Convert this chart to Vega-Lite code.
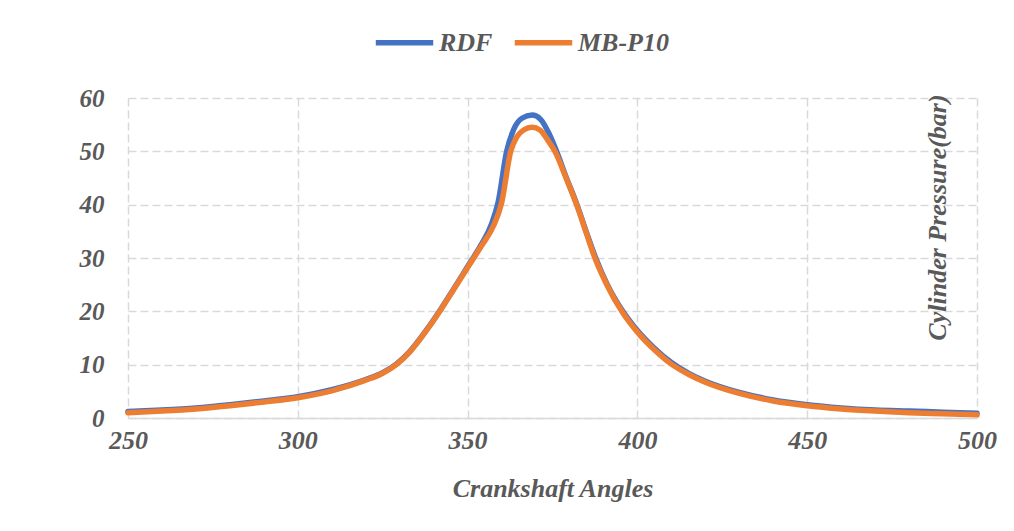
{
  "$schema": "https://vega.github.io/schema/vega-lite/v6.json",
  "width": 849,
  "height": 320,
  "autosize": {"type": "none"},
  "padding": {"left": 128, "top": 98, "right": 37, "bottom": 113},
  "background": "white",
  "config": {
    "view": {"stroke": null},
    "font": "Liberation Serif"
  },
  "data": {
    "values": [
      {"angle": 250, "p": 1.2, "s": "RDF"}, {"angle": 260, "p": 1.5, "s": "RDF"}, {"angle": 270, "p": 1.9, "s": "RDF"},
      {"angle": 280, "p": 2.5, "s": "RDF"}, {"angle": 290, "p": 3.2, "s": "RDF"}, {"angle": 300, "p": 4.0, "s": "RDF"},
      {"angle": 310, "p": 5.3, "s": "RDF"}, {"angle": 320, "p": 7.2, "s": "RDF"}, {"angle": 325, "p": 8.5, "s": "RDF"},
      {"angle": 329, "p": 10.1, "s": "RDF"}, {"angle": 333, "p": 12.5, "s": "RDF"}, {"angle": 338, "p": 16.6, "s": "RDF"},
      {"angle": 342, "p": 20.3, "s": "RDF"}, {"angle": 346, "p": 24.3, "s": "RDF"}, {"angle": 350, "p": 28.4, "s": "RDF"},
      {"angle": 354, "p": 32.5, "s": "RDF"}, {"angle": 357, "p": 36.3, "s": "RDF"}, {"angle": 359, "p": 40.5, "s": "RDF"},
      {"angle": 361.5, "p": 50, "s": "RDF"}, {"angle": 363.5, "p": 54, "s": "RDF"}, {"angle": 366, "p": 56.2, "s": "RDF"},
      {"angle": 369, "p": 56.8, "s": "RDF"}, {"angle": 371.5, "p": 56, "s": "RDF"}, {"angle": 374, "p": 53.3, "s": "RDF"},
      {"angle": 376.2, "p": 50, "s": "RDF"}, {"angle": 379, "p": 45.2, "s": "RDF"}, {"angle": 382.2, "p": 40, "s": "RDF"},
      {"angle": 385, "p": 34.8, "s": "RDF"}, {"angle": 387.6, "p": 30.2, "s": "RDF"}, {"angle": 391, "p": 25.2, "s": "RDF"},
      {"angle": 395.5, "p": 20.2, "s": "RDF"}, {"angle": 400, "p": 16.4, "s": "RDF"}, {"angle": 405, "p": 13.1, "s": "RDF"},
      {"angle": 410, "p": 10.4, "s": "RDF"}, {"angle": 415, "p": 8.4, "s": "RDF"}, {"angle": 420, "p": 6.9, "s": "RDF"},
      {"angle": 430, "p": 4.8, "s": "RDF"}, {"angle": 440, "p": 3.4, "s": "RDF"}, {"angle": 450, "p": 2.5, "s": "RDF"},
      {"angle": 460, "p": 1.9, "s": "RDF"}, {"angle": 470, "p": 1.5, "s": "RDF"}, {"angle": 480, "p": 1.3, "s": "RDF"},
      {"angle": 490, "p": 1.1, "s": "RDF"}, {"angle": 500, "p": 0.9, "s": "RDF"},
      {"angle": 250, "p": 1.0, "s": "MB-P10"}, {"angle": 260, "p": 1.3, "s": "MB-P10"}, {"angle": 270, "p": 1.7, "s": "MB-P10"},
      {"angle": 280, "p": 2.3, "s": "MB-P10"}, {"angle": 290, "p": 3.0, "s": "MB-P10"}, {"angle": 300, "p": 3.8, "s": "MB-P10"},
      {"angle": 310, "p": 5.1, "s": "MB-P10"}, {"angle": 320, "p": 7.1, "s": "MB-P10"}, {"angle": 325, "p": 8.4, "s": "MB-P10"},
      {"angle": 329, "p": 10.0, "s": "MB-P10"}, {"angle": 333, "p": 12.4, "s": "MB-P10"}, {"angle": 338, "p": 16.5, "s": "MB-P10"},
      {"angle": 342, "p": 20.2, "s": "MB-P10"}, {"angle": 346, "p": 24.2, "s": "MB-P10"}, {"angle": 350, "p": 28.2, "s": "MB-P10"},
      {"angle": 354, "p": 32.2, "s": "MB-P10"}, {"angle": 357.6, "p": 36, "s": "MB-P10"}, {"angle": 360, "p": 40.3, "s": "MB-P10"},
      {"angle": 362.7, "p": 50, "s": "MB-P10"}, {"angle": 364.5, "p": 52.7, "s": "MB-P10"}, {"angle": 366.5, "p": 54, "s": "MB-P10"},
      {"angle": 369, "p": 54.5, "s": "MB-P10"}, {"angle": 371.3, "p": 54, "s": "MB-P10"}, {"angle": 373.5, "p": 52.2, "s": "MB-P10"},
      {"angle": 375.7, "p": 50, "s": "MB-P10"}, {"angle": 379, "p": 45, "s": "MB-P10"}, {"angle": 382.1, "p": 40, "s": "MB-P10"},
      {"angle": 385, "p": 34.6, "s": "MB-P10"}, {"angle": 387.5, "p": 30, "s": "MB-P10"}, {"angle": 391, "p": 25, "s": "MB-P10"},
      {"angle": 395.4, "p": 20, "s": "MB-P10"}, {"angle": 400, "p": 16.1, "s": "MB-P10"}, {"angle": 405, "p": 12.8, "s": "MB-P10"},
      {"angle": 410, "p": 10.1, "s": "MB-P10"}, {"angle": 415, "p": 8.2, "s": "MB-P10"}, {"angle": 420, "p": 6.7, "s": "MB-P10"},
      {"angle": 430, "p": 4.6, "s": "MB-P10"}, {"angle": 440, "p": 3.2, "s": "MB-P10"}, {"angle": 450, "p": 2.3, "s": "MB-P10"},
      {"angle": 460, "p": 1.7, "s": "MB-P10"}, {"angle": 470, "p": 1.3, "s": "MB-P10"}, {"angle": 480, "p": 1.0, "s": "MB-P10"},
      {"angle": 490, "p": 0.8, "s": "MB-P10"}, {"angle": 500, "p": 0.6, "s": "MB-P10"}
    ]
  },
  "mark": {"type": "line", "interpolate": "monotone", "strokeWidth": 5.5, "strokeCap": "round"},
  "encoding": {
    "x": {
      "field": "angle", "type": "quantitative",
      "scale": {"domain": [250, 500], "nice": false},
      "axis": {
        "values": [250, 300, 350, 400, 450, 500],
        "title": "Crankshaft Angles",
        "titleFont": "Liberation Serif", "titleFontSize": 26, "titleFontWeight": "bold", "titleFontStyle": "italic",
        "titleColor": "#595959", "titlePadding": 22,
        "labelFont": "Liberation Serif", "labelFontSize": 26, "labelFontWeight": "bold", "labelFontStyle": "italic",
        "labelColor": "#595959", "labelPadding": 9, "labelFlush": false,
        "ticks": false,
        "domain": true, "domainColor": "#d9d9d9", "domainWidth": 1.5,
        "grid": true, "gridColor": "#d9d9d9", "gridDash": [8, 4], "gridWidth": 1.5
      }
    },
    "y": {
      "field": "p", "type": "quantitative",
      "scale": {"domain": [0, 60], "nice": false},
      "axis": {
        "values": [0, 10, 20, 30, 40, 50, 60],
        "title": "Cylinder Pressure(bar)",
        "titleX": 809, "titleY": 119, "titleAngle": -90, "titleAlign": "center", "titleBaseline": "middle",
        "titleFont": "Liberation Serif", "titleFontSize": 26, "titleFontWeight": "bold", "titleFontStyle": "italic",
        "titleColor": "#595959",
        "labelFont": "Liberation Serif", "labelFontSize": 25, "labelFontWeight": "bold", "labelFontStyle": "italic",
        "labelColor": "#595959", "labelPadding": 24,
        "ticks": false, "domain": false,
        "grid": true, "gridColor": "#d9d9d9", "gridDash": [8, 4], "gridWidth": 1.5
      }
    },
    "color": {
      "field": "s", "type": "nominal",
      "scale": {"domain": ["RDF", "MB-P10"], "range": ["#4472C4", "#ED7D31"]},
      "sort": ["RDF", "MB-P10"],
      "legend": {
        "title": null, "orient": "none", "direction": "horizontal",
        "legendX": 245, "legendY": -87,
        "symbolType": "stroke", "symbolSize": 3300, "symbolStrokeWidth": 5.5,
        "labelFont": "Liberation Serif", "labelFontSize": 26, "labelFontWeight": "bold", "labelFontStyle": "italic",
        "labelColor": "#595959", "labelOffset": 3, "columnPadding": 10
      }
    },
    "order": {"field": "s", "sort": "descending"}
  }
}
